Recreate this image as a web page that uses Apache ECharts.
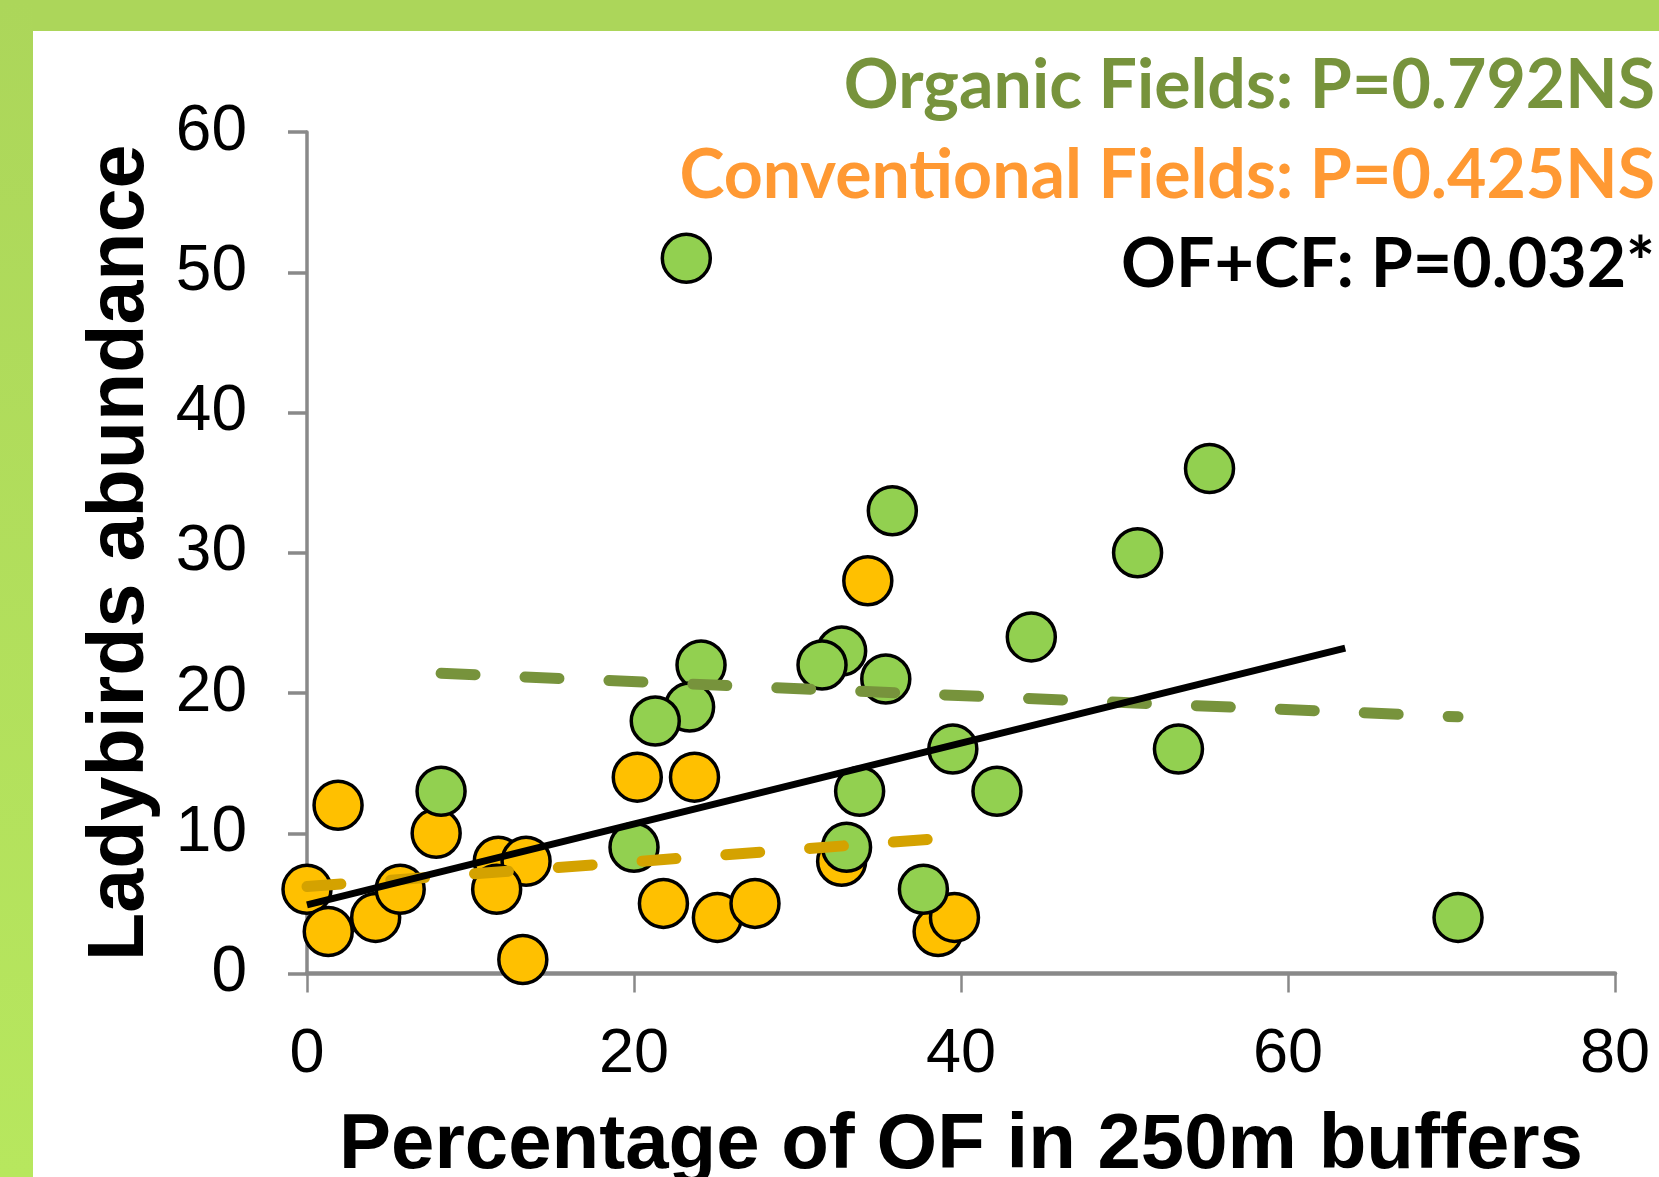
<!DOCTYPE html>
<html>
<head>
<meta charset="utf-8">
<script src="https://cdn.jsdelivr.net/npm/echarts@6/dist/echarts.min.js"></script>
<style>
html,body{margin:0;padding:0;background:#fff;}
#chart{width:1659px;height:1177px;}
</style>
</head>
<body>
<div id="chart"></div>
<script>
// ---- Data ----
const organicFields = [
  [23.2, 51], [55.2, 36], [35.8, 33], [50.8, 30], [44.3, 24],
  [24.1, 22], [32.7, 23], [31.5, 22], [35.4, 21], [23.4, 19],
  [21.3, 18], [39.5, 16], [53.3, 16], [8.2, 13], [33.8, 13],
  [42.2, 13], [20.0, 9], [33.0, 9], [37.7, 6], [70.4, 4]
];
const conventionalFields = [
  [0, 6], [1.9, 12], [1.3, 3], [4.2, 4], [5.7, 6], [7.9, 10],
  [11.7, 8], [13.4, 8], [11.6, 6], [13.2, 1], [20.2, 14], [23.7, 14],
  [21.8, 5], [25.1, 4], [27.4, 5], [32.7, 8], [34.3, 28], [38.6, 3], [39.6, 4]
];
const organicTrend = [[8.2, 21.4], [70.4, 18.3]];
const conventionalTrend = [[0, 6.2], [39.6, 9.7]];
const combinedTrend = [[0, 4.9], [63.5, 23.2]];

const statLabels = [
  'Organic Fields: P=0.792NS',
  'Conventional Fields: P=0.425NS',
  'OF+CF: P=0.032*'
];
const xTitle = 'Percentage of OF in 250m buffers';
const yTitle = 'Ladybirds abundance';

// ---- Chart ----
const chart = echarts.init(document.getElementById('chart'), null, {renderer: 'canvas'});
const axisGray = '#898989';
const labelFont = 'Liberation Sans, Arial, sans-serif';
const statFont = 'Lato, "Open Sans", sans-serif';
const statColors = ['#77933C', '#FF9933', '#000000'];
const statY = [86, 176, 265];

const option = {
  backgroundColor: '#ffffff',
  animation: false,
  grid: {left: 307, right: 44, top: 132, bottom: 203.5, containLabel: false, outerBoundsMode: 'none'},
  xAxis: {
    type: 'value', min: 0, max: 80, interval: 20,
    name: xTitle, nameLocation: 'middle', nameGap: 134,
    nameTextStyle: {fontFamily: labelFont, fontWeight: 'bold', fontSize: 78, color: '#000'},
    axisLine: {show: true, onZero: false, lineStyle: {color: axisGray, width: 4.5}},
    axisTick: {show: true, inside: false, length: 19, lineStyle: {color: axisGray, width: 2.5}},
    axisLabel: {fontFamily: labelFont, fontSize: 63, color: '#000', margin: 50},
    splitLine: {show: false}
  },
  yAxis: {
    type: 'value', min: 0, max: 60, interval: 10,
    name: yTitle, nameLocation: 'middle', nameGap: 146, nameRotate: 90,
    nameTextStyle: {fontFamily: labelFont, fontWeight: 'bold', fontSize: 79, color: '#000'},
    axisLine: {show: true, onZero: false, lineStyle: {color: axisGray, width: 3.5}},
    axisTick: {show: true, inside: false, length: 19, lineStyle: {color: axisGray, width: 3.5}},
    axisLabel: {fontFamily: labelFont, fontSize: 64, color: '#000', margin: 60},
    splitLine: {show: false}
  },
  series: [
    {
      name: 'Conventional Fields', type: 'scatter', data: conventionalFields,
      symbol: 'circle', symbolSize: 48, z: 2,
      itemStyle: {color: '#FFC000', borderColor: '#000', borderWidth: 3.5, opacity: 1}
    },
    {
      name: 'Organic Fields', type: 'scatter', data: organicFields,
      symbol: 'circle', symbolSize: 48, z: 3,
      itemStyle: {color: '#92D050', borderColor: '#000', borderWidth: 3.5, opacity: 1}
    },
    {
      name: 'Organic trend', type: 'line', data: organicTrend, showSymbol: false, symbol: 'none', z: 4,
      lineStyle: {color: '#77933C', width: 11, type: [34, 50], cap: 'round'}
    },
    {
      name: 'Conventional trend', type: 'line', data: conventionalTrend, showSymbol: false, symbol: 'none', z: 4,
      lineStyle: {color: '#D4A200', width: 11, type: [34, 50], cap: 'round'}
    },
    {
      name: 'OF+CF trend', type: 'line', data: combinedTrend, showSymbol: false, symbol: 'none', z: 5,
      lineStyle: {color: '#000', width: 7}
    }
  ],
  graphic: [
    {type: 'rect', left: 0, top: 0, z: 100, shape: {width: 1659, height: 31},
     style: {fill: '#ACD65A'}},
    {type: 'rect', left: 0, top: 0, z: 100, shape: {width: 33, height: 1177},
     style: {fill: new echarts.graphic.LinearGradient(0, 0, 0, 1, [
       {offset: 0, color: '#ACD65A'}, {offset: 1, color: '#B7E75E'}])}}
  ].concat(statLabels.map((t, i) => ({
    type: 'text', z: 100, x: 1655, y: statY[i],
    style: {text: t, fill: statColors[i], font: 'bold 68px ' + statFont,
            textAlign: 'right', textVerticalAlign: 'middle'}
  })))
};
chart.setOption(option);
</script>
</body>
</html>
